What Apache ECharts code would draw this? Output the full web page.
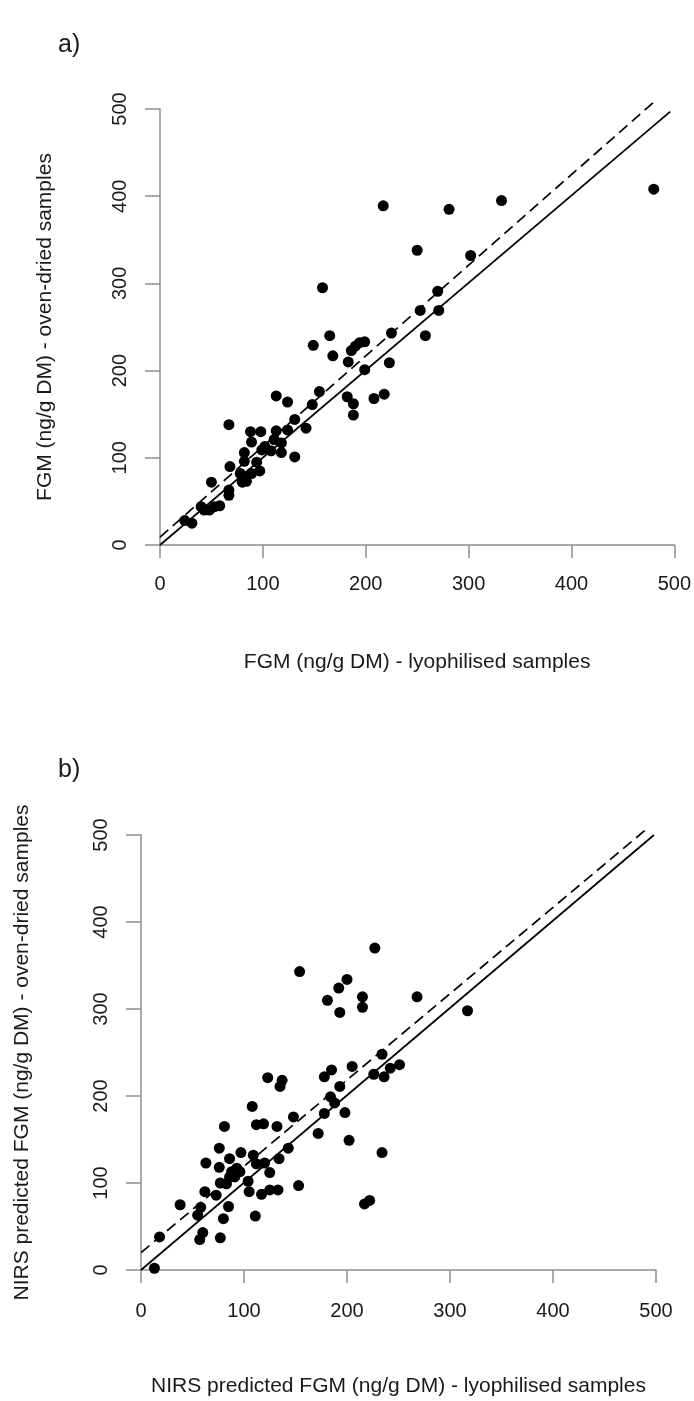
<!DOCTYPE html>
<html>
<head>
<meta charset="utf-8">
<script src="https://cdn.jsdelivr.net/npm/echarts@6/dist/echarts.min.js"></script>
<style>
html,body{margin:0;padding:0;background:#fff;}
#chart{width:694px;height:1401px;}
</style>
</head>
<body>
<div id="chart"></div>
<script>
// ---- data ----
const xTicks = [0, 100, 200, 300, 400, 500];
const yTicks = [0, 100, 200, 300, 400, 500];

// Panel a: FGM lyophilised (x) vs oven-dried (y)
const pointsA = [
  [24,28],[31,25],[40,44],[43,40],[48,40],[53,44],[58,45],[50,72],[67,63],[67,57],
  [68,90],[67,138],[78,82],[80,72],[83,78],[84,73],[89,82],[82,96],[94,95],[97,85],
  [82,106],[88,130],[98,130],[89,118],[99,109],[102,113],[108,108],[118,106],[111,121],[118,117],
  [113,131],[124,132],[131,144],[142,134],[131,101],[113,171],[124,164],[148,161],[155,176],[149,229],
  [158,295],[165,240],[168,217],[183,210],[182,170],[188,162],[188,149],[186,223],[190,228],[194,232],
  [199,233],[199,201],[208,168],[218,173],[223,209],[225,243],[217,389],[250,338],[253,269],[258,240],
  [270,291],[271,269],[281,385],[302,332],[332,395],[480,408]
];
const solidA = [[0,0],[496,497]];
const dashedA = [[0,9],[482,510]];

// Panel b: NIRS predicted FGM lyophilised (x) vs oven-dried (y)
const pointsB = [
  [13,2],[18,38],[38,75],[57,35],[60,43],[77,37],[55,63],[58,72],[85,73],[80,59],
  [62,90],[73,86],[77,100],[83,99],[88,113],[93,117],[96,113],[86,107],[91,107],[63,123],
  [76,118],[76,140],[86,128],[97,135],[81,165],[109,132],[112,122],[120,123],[125,112],[104,102],
  [105,90],[117,87],[125,92],[133,92],[153,97],[111,62],[134,128],[143,140],[108,188],[112,167],
  [119,168],[132,165],[148,176],[123,221],[137,218],[135,211],[154,343],[172,157],[178,180],[178,222],
  [185,230],[184,199],[188,192],[193,211],[198,181],[202,149],[205,234],[181,310],[192,324],[200,334],
  [193,296],[215,314],[215,302],[227,370],[217,76],[222,80],[226,225],[234,248],[236,222],[242,232],
  [251,236],[234,135],[268,314],[317,298]
];
const solidB = [[0,0],[498,500]];
const dashedB = [[0,20],[493,509]];

const labels = {
  aX: 'FGM (ng/g DM) - lyophilised samples',
  aY: 'FGM (ng/g DM) - oven-dried samples',
  bX: 'NIRS predicted FGM (ng/g DM) - lyophilised samples',
  bY: 'NIRS predicted FGM (ng/g DM) - oven-dried samples'
};

// ---- chart ----
const FONT = 'Liberation Sans, Arial, sans-serif';
const axisGray = '#8f8f8f';
const textCol = '#1a1a1a';
const TICK_FS = 20;
const NAME_FS = 21;

function xAxis(gridIndex, name, labelMargin, nameGap) {
  return {
    type: 'value', gridIndex, min: 0, max: 500, interval: 100,
    name, nameLocation: 'middle', nameGap,
    nameTextStyle: {fontFamily: FONT, fontSize: NAME_FS, color: textCol},
    axisLine: {show: true, onZero: false, lineStyle: {color: axisGray, width: 1.5}},
    axisTick: {show: true, inside: false, length: 13, lineStyle: {color: axisGray, width: 1.5}},
    axisLabel: {fontFamily: FONT, fontSize: TICK_FS, color: textCol, margin: labelMargin,
      formatter: v => xTicks.includes(v) ? String(v) : ''},
    splitLine: {show: false}
  };
}
function yAxis(gridIndex, name, nameGap) {
  return {
    type: 'value', gridIndex, min: 0, max: 500, interval: 100,
    name, nameLocation: 'middle', nameGap, nameRotate: 90,
    nameTextStyle: {fontFamily: FONT, fontSize: NAME_FS, color: textCol},
    axisLine: {show: true, onZero: false, lineStyle: {color: axisGray, width: 1.5}},
    axisTick: {show: true, inside: false, length: 15, lineStyle: {color: axisGray, width: 1.5}},
    axisLabel: {fontFamily: FONT, fontSize: TICK_FS, color: textCol, margin: 30, rotate: 90,
      formatter: v => yTicks.includes(v) ? String(v) : ''},
    splitLine: {show: false}
  };
}
function scatter(idx, data) {
  return {type: 'scatter', xAxisIndex: idx, yAxisIndex: idx, data,
    symbol: 'circle', symbolSize: 11, itemStyle: {color: '#000', opacity: 1}, silent: true, z: 3};
}
function line(idx, data, dashed) {
  return {type: 'line', xAxisIndex: idx, yAxisIndex: idx, data, clip: false,
    symbol: 'none', silent: true, z: 2,
    lineStyle: {color: '#000', width: 1.7, type: dashed ? [11, 6] : 'solid'}};
}

const chart = echarts.init(document.getElementById('chart'), null, {renderer: 'canvas'});
chart.setOption({
  animation: false,
  backgroundColor: '#fff',
  grid: [
    {left: 160, right: 19, top: 109, height: 436},
    {left: 141, right: 38, top: 835, height: 435}
  ],
  xAxis: [xAxis(0, labels.aX, 29, 107), xAxis(1, labels.bX, 31, 106)],
  yAxis: [yAxis(0, labels.aY, 104), yAxis(1, labels.bY, 108)],
  graphic: [
    {type: 'text', left: 58, top: 33, style: {text: 'a)', font: '25px ' + FONT, fill: textCol}},
    {type: 'text', left: 58, top: 758, style: {text: 'b)', font: '25px ' + FONT, fill: textCol}}
  ],
  series: [
    line(0, solidA, false), line(0, dashedA, true), scatter(0, pointsA),
    line(1, solidB, false), line(1, dashedB, true), scatter(1, pointsB)
  ]
});
</script>
</body>
</html>
